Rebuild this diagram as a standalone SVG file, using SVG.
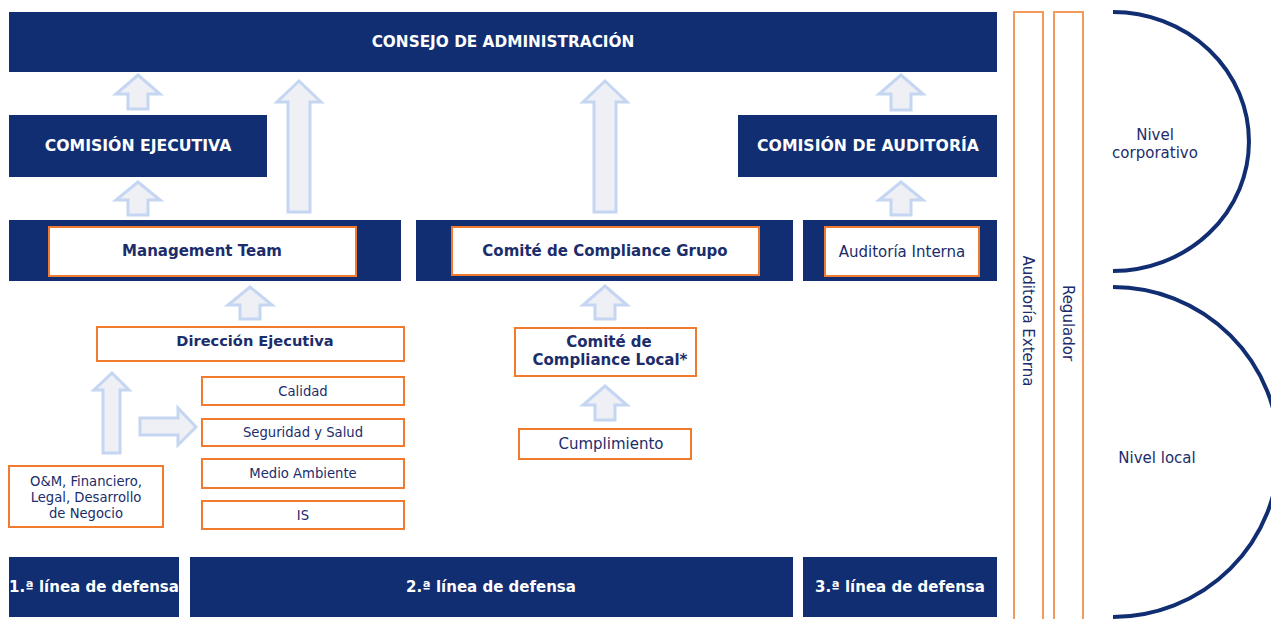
<svg xmlns="http://www.w3.org/2000/svg" width="1271" height="619" viewBox="0 0 1271 619">
<style>
.dk{fill:#112e72}
.wb{fill:#ffffff;stroke:#f07b2e;stroke-width:2}
.col{fill:#ffffff;stroke:#f29a5c;stroke-width:2}
.ar{fill:#eef0f5;stroke:#c5d6f2;stroke-width:3;stroke-linejoin:miter}
.t{font-family:"DejaVu Sans","Liberation Sans",sans-serif;text-anchor:middle}
.tw{fill:#ffffff;font-weight:bold;font-size:15px}
.tc{fill:#ffffff;font-weight:bold;font-size:15.7px}
.tb{fill:#1b2d6b;font-weight:bold;font-size:15px}
.tn{fill:#1b2d6b;font-size:15px}
.ts{fill:#1b2d6b;font-size:13.2px}
.arc{fill:none;stroke:#112e72;stroke-width:4}
</style>
<rect width="1271" height="619" fill="#ffffff"/>

<g id="connectors">
<path class="ar" d="M138,75 L160,94 L148,94 L148,109 L128,109 L128,94 L116,94 Z"/>
<path class="ar" d="M138,182 L160,200 L148,200 L148,215 L128,215 L128,200 L116,200 Z"/>
<path class="ar" d="M299,81 L321,102 L310,102 L310,212 L288,212 L288,102 L277,102 Z"/>
<path class="ar" d="M250,287 L272,305 L260,305 L260,319 L240,319 L240,305 L228,305 Z"/>
<path class="ar" d="M112,373 L129,390 L120,390 L120,453 L103,453 L103,390 L94,390 Z"/>
<path class="ar" d="M196,427 L178,445 L178,435 L140,435 L140,418 L178,418 L178,408 Z"/>
<path class="ar" d="M605,81 L627,102 L616,102 L616,212 L594,212 L594,102 L583,102 Z"/>
<path class="ar" d="M605,286 L627,305 L615,305 L615,319 L595,319 L595,305 L583,305 Z"/>
<path class="ar" d="M605,386 L627,405 L615,405 L615,420 L595,420 L595,405 L583,405 Z"/>
<path class="ar" d="M901,75 L923,94 L911,94 L911,110 L891,110 L891,94 L879,94 Z"/>
<path class="ar" d="M901,182 L923,200 L911,200 L911,215 L891,215 L891,200 L879,200 Z"/>
</g>

<g id="consejo">
<rect class="dk" x="9" y="12" width="988" height="60"/>
<text class="t tc" x="503" y="47" style="font-size:15.3px">CONSEJO DE ADMINISTRACIÓN</text>
</g>
<g id="comision-ejecutiva">
<rect class="dk" x="9" y="115" width="258" height="62"/>
<text class="t tc" x="138" y="151">COMISIÓN EJECUTIVA</text>
</g>
<g id="comision-auditoria">
<rect class="dk" x="738" y="115" width="259" height="62"/>
<text class="t tc" x="868" y="151">COMISIÓN DE AUDITORÍA</text>
</g>

<g id="management-team">
<rect class="dk" x="9" y="220" width="392" height="61"/>
<rect class="wb" x="49" y="227" width="307" height="49"/>
<text class="t tb" x="202" y="256">Management Team</text>
</g>
<g id="compliance-grupo">
<rect class="dk" x="416" y="220" width="377" height="61"/>
<rect class="wb" x="452" y="227" width="307" height="48"/>
<text class="t tb" x="605" y="256">Comité de Compliance Grupo</text>
</g>
<g id="auditoria-interna">
<rect class="dk" x="803" y="220" width="194" height="61"/>
<rect class="wb" x="825" y="227" width="154" height="49"/>
<text class="t tn" x="902" y="257">Auditoría Interna</text>
</g>

<g id="direccion-ejecutiva">
<rect class="wb" x="97" y="327" width="307" height="34"/>
<text class="t tb" x="255" y="346" style="font-size:14.6px">Dirección Ejecutiva</text>
</g>
<g id="calidad">
<rect class="wb" x="202" y="377" width="202" height="28"/>
<text class="t ts" x="303" y="396">Calidad</text>
</g>
<g id="seguridad">
<rect class="wb" x="202" y="419" width="202" height="27"/>
<text class="t ts" x="303" y="437">Seguridad y Salud</text>
</g>
<g id="medio-ambiente">
<rect class="wb" x="202" y="459" width="202" height="29"/>
<text class="t ts" x="303" y="478">Medio Ambiente</text>
</g>
<g id="is">
<rect class="wb" x="202" y="501" width="202" height="28"/>
<text class="t ts" x="303" y="520">IS</text>
</g>
<g id="om">
<rect class="wb" x="9" y="466" width="154" height="61"/>
<text class="t ts" x="86" y="486">O&amp;M, Financiero,</text>
<text class="t ts" x="86" y="502">Legal, Desarrollo</text>
<text class="t ts" x="86" y="518">de Negocio</text>
</g>
<g id="compliance-local">
<rect class="wb" x="515" y="328" width="181" height="48"/>
<text class="t tb" x="609" y="347">Comité de</text>
<text class="t tb" x="610" y="365">Compliance Local*</text>
</g>
<g id="cumplimiento">
<rect class="wb" x="519" y="429" width="172" height="30"/>
<text class="t tn" x="611" y="449">Cumplimiento</text>
</g>

<g id="linea1">
<rect class="dk" x="9" y="557" width="170" height="60"/>
<text class="t tw" x="94" y="592">1.ª línea de defensa</text>
</g>
<g id="linea2">
<rect class="dk" x="190" y="557" width="603" height="60"/>
<text class="t tw" x="491" y="592">2.ª línea de defensa</text>
</g>
<g id="linea3">
<rect class="dk" x="803" y="557" width="194" height="60"/>
<text class="t tw" x="900" y="592">3.ª línea de defensa</text>
</g>

<g id="auditoria-externa">
<rect class="col" x="1014" y="12" width="29" height="612"/>
<text class="t tn" transform="translate(1023,321) rotate(90)" x="0" y="0">Auditoría Externa</text>
</g>
<g id="regulador">
<rect class="col" x="1054" y="12" width="29" height="612"/>
<text class="t tn" transform="translate(1063,323) rotate(90)" x="0" y="0">Regulador</text>
</g>

<g id="nivel-corporativo">
<path class="arc" d="M1113,12 A136 129.5 0 0 1 1113,271"/>
<text class="t tn" x="1155" y="140">Nivel</text>
<text class="t tn" x="1155" y="158">corporativo</text>
</g>
<g id="nivel-local">
<path class="arc" d="M1113,287 A166 165 0 0 1 1113,617"/>
<text class="t tn" x="1157" y="463">Nivel local</text>
</g>
</svg>
